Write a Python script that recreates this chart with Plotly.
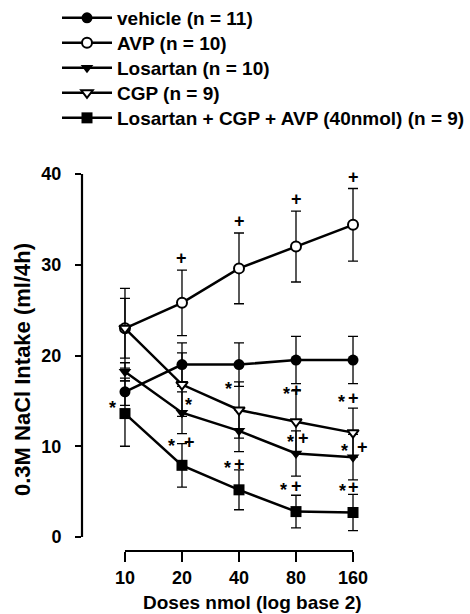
import plotly.graph_objects as go

# ---- data ----
doses = ["10", "20", "40", "80", "160"]

vehicle = [16.0, 19.0, 19.0, 19.5, 19.5]
vehicle_sem = [1.5, 2.4, 2.4, 2.6, 2.6]

avp = [23.0, 25.8, 29.6, 32.0, 34.4]
avp_sem = [4.4, 3.6, 3.9, 3.9, 4.0]

losartan = [18.2, 13.7, 11.7, 9.2, 8.8]
losartan_sem = [1.0, 2.3, 2.3, 2.5, 2.5]

cgp = [23.0, 16.8, 14.0, 12.7, 11.5]
cgp_sem = [3.3, 3.5, 3.1, 3.4, 2.7]

combo = [13.6, 7.9, 5.2, 2.8, 2.7]
combo_sem = [3.6, 2.4, 2.2, 1.8, 2.0]

names = ["vehicle (n = 11)", "AVP (n = 10)", "Losartan (n = 10)", "CGP (n = 9)",
         "Losartan + CGP + AVP (40nmol) (n = 9)"]

y_ticks = [0, 10, 20, 30, 40]

# significance marks: (dose, value level, text, horizontal pixel shift)
sig_marks = [
    ("10", 14.7, "*", -12),
    ("20", 15.0, "*", 7),
    ("20", 10.5, "*", -10), ("20", 10.5, "+", 8),
    ("40", 16.7, "*", -11),
    ("40", 8.0, "*", -12), ("40", 8.0, "+", 0),
    ("80", 16.2, "*", -10), ("80", 16.2, "+", 0),
    ("80", 10.9, "*", -6), ("80", 10.9, "+", 7),
    ("80", 5.6, "*", -13), ("80", 5.6, "+", 0),
    ("160", 15.3, "*", -12), ("160", 15.3, "+", 0),
    ("160", 9.9, "*", -9), ("160", 9.9, "+", 9),
    ("160", 5.5, "*", -11), ("160", 5.5, "+", 0),
]
avp_plus_doses = ["20", "40", "80", "160"]

FONT = "Arial, Liberation Sans, Helvetica, sans-serif"
W, H = 470, 614
ML, MR, MT, MB = 82, 100, 174, 63

series = [
    (vehicle, vehicle_sem, dict(symbol="circle", size=11, color="black", line=dict(width=0))),
    (avp, avp_sem, dict(symbol="circle", size=10, color="white", line=dict(width=2, color="black"))),
    (losartan, losartan_sem, dict(symbol="triangle-down", size=11, color="black", line=dict(width=0))),
    (cgp, cgp_sem, dict(symbol="triangle-down", size=10, color="white", line=dict(width=2, color="black"))),
    (combo, combo_sem, dict(symbol="square", size=11, color="black", line=dict(width=0))),
]

legend_ids = ["legend", "legend2", "legend3", "legend4", "legend5"]
legend_rows = [18, 43, 68, 93, 118]   # pixel rows of legend entries

fig = go.Figure()
for (vals, sem, mk), nm, lg in zip(series, names, legend_ids):
    fig.add_trace(go.Scatter(
        x=doses, y=vals, name=nm, mode="lines+markers",
        line=dict(color="black", width=2.5),
        marker=mk,
        error_y=dict(type="data", array=sem, visible=True, color="black",
                     thickness=1.3, width=5),
        cliponaxis=False, legend=lg,
    ))

annotations = []
for d, lvl, txt, dx in sig_marks:
    annotations.append(dict(
        x=doses.index(d), y=lvl, xref="x", yref="y", text=txt, showarrow=False,
        xshift=dx, yshift=(-4 if txt == "*" else 0),
        font=dict(family=FONT, size=18, color="black", weight="bold")))
for d in avp_plus_doses:
    i = doses.index(d)
    annotations.append(dict(
        x=i, y=avp[i] + avp_sem[i], xref="x", yref="y", text="+", showarrow=False,
        yanchor="bottom", yshift=0,
        font=dict(family=FONT, size=18, color="black", weight="bold")))

# axis titles
pw, ph = W - ML - MR, H - MT - MB
annotations.append(dict(
    text="Doses nmol (log base 2)", xref="paper", yref="paper",
    x=(252 - ML) / pw, y=(H - MB - 602) / ph, showarrow=False,
    xanchor="center", yanchor="middle",
    font=dict(family=FONT, size=19, color="black", weight="bold")))
annotations.append(dict(
    text="0.3M NaCl Intake (ml/4h)", xref="paper", yref="paper",
    x=(22 - ML) / pw, y=(H - MB - 370) / ph, showarrow=False, textangle=-90,
    xanchor="center", yanchor="middle",
    font=dict(family=FONT, size=22, color="black", weight="bold")))

shapes = [
    # detached y axis line (0 to 40)
    dict(type="line", xref="paper", yref="y", x0=0, x1=0, y0=y_ticks[0], y1=y_ticks[-1],
         line=dict(color="black", width=2.2)),
    # detached x axis line (first to last dose)
    dict(type="line", xref="x", yref="paper", x0=0, x1=len(doses) - 1, y0=0, y1=0,
         line=dict(color="black", width=2.2)),
]

legends = {}
for lg, row in zip(legend_ids, legend_rows):
    legends[lg] = dict(xref="container", yref="container", x=57 / W, y=1 - row / H,
                       xanchor="left", yanchor="middle", bgcolor="rgba(0,0,0,0)",
                       font=dict(family=FONT, size=19, weight="bold"), itemwidth=50)

fig.update_layout(
    width=W, height=H,
    margin=dict(l=ML, r=MR, t=MT, b=MB, autoexpand=False),
    paper_bgcolor="white", plot_bgcolor="white",
    font=dict(family=FONT, size=18, color="black"),
    showlegend=True,
    annotations=annotations,
    shapes=shapes,
    **legends,
)
fig.update_xaxes(
    type="category", categoryorder="array", categoryarray=doses,
    range=[-0.754, 4.298], showgrid=False, zeroline=False, showline=False,
    ticks="outside", ticklen=10, tickwidth=2, tickcolor="black",
    tickfont=dict(family=FONT, size=18, weight="bold"), automargin=False,
)
fig.update_yaxes(
    range=[-1.543, 40], tickvals=y_ticks, showgrid=False, zeroline=False, showline=False,
    ticks="outside", ticklen=6, tickwidth=2, tickcolor="black", ticklabelstandoff=10,
    tickfont=dict(family=FONT, size=18, weight="bold"), automargin=False,
)

fig.write_html("out.html")
